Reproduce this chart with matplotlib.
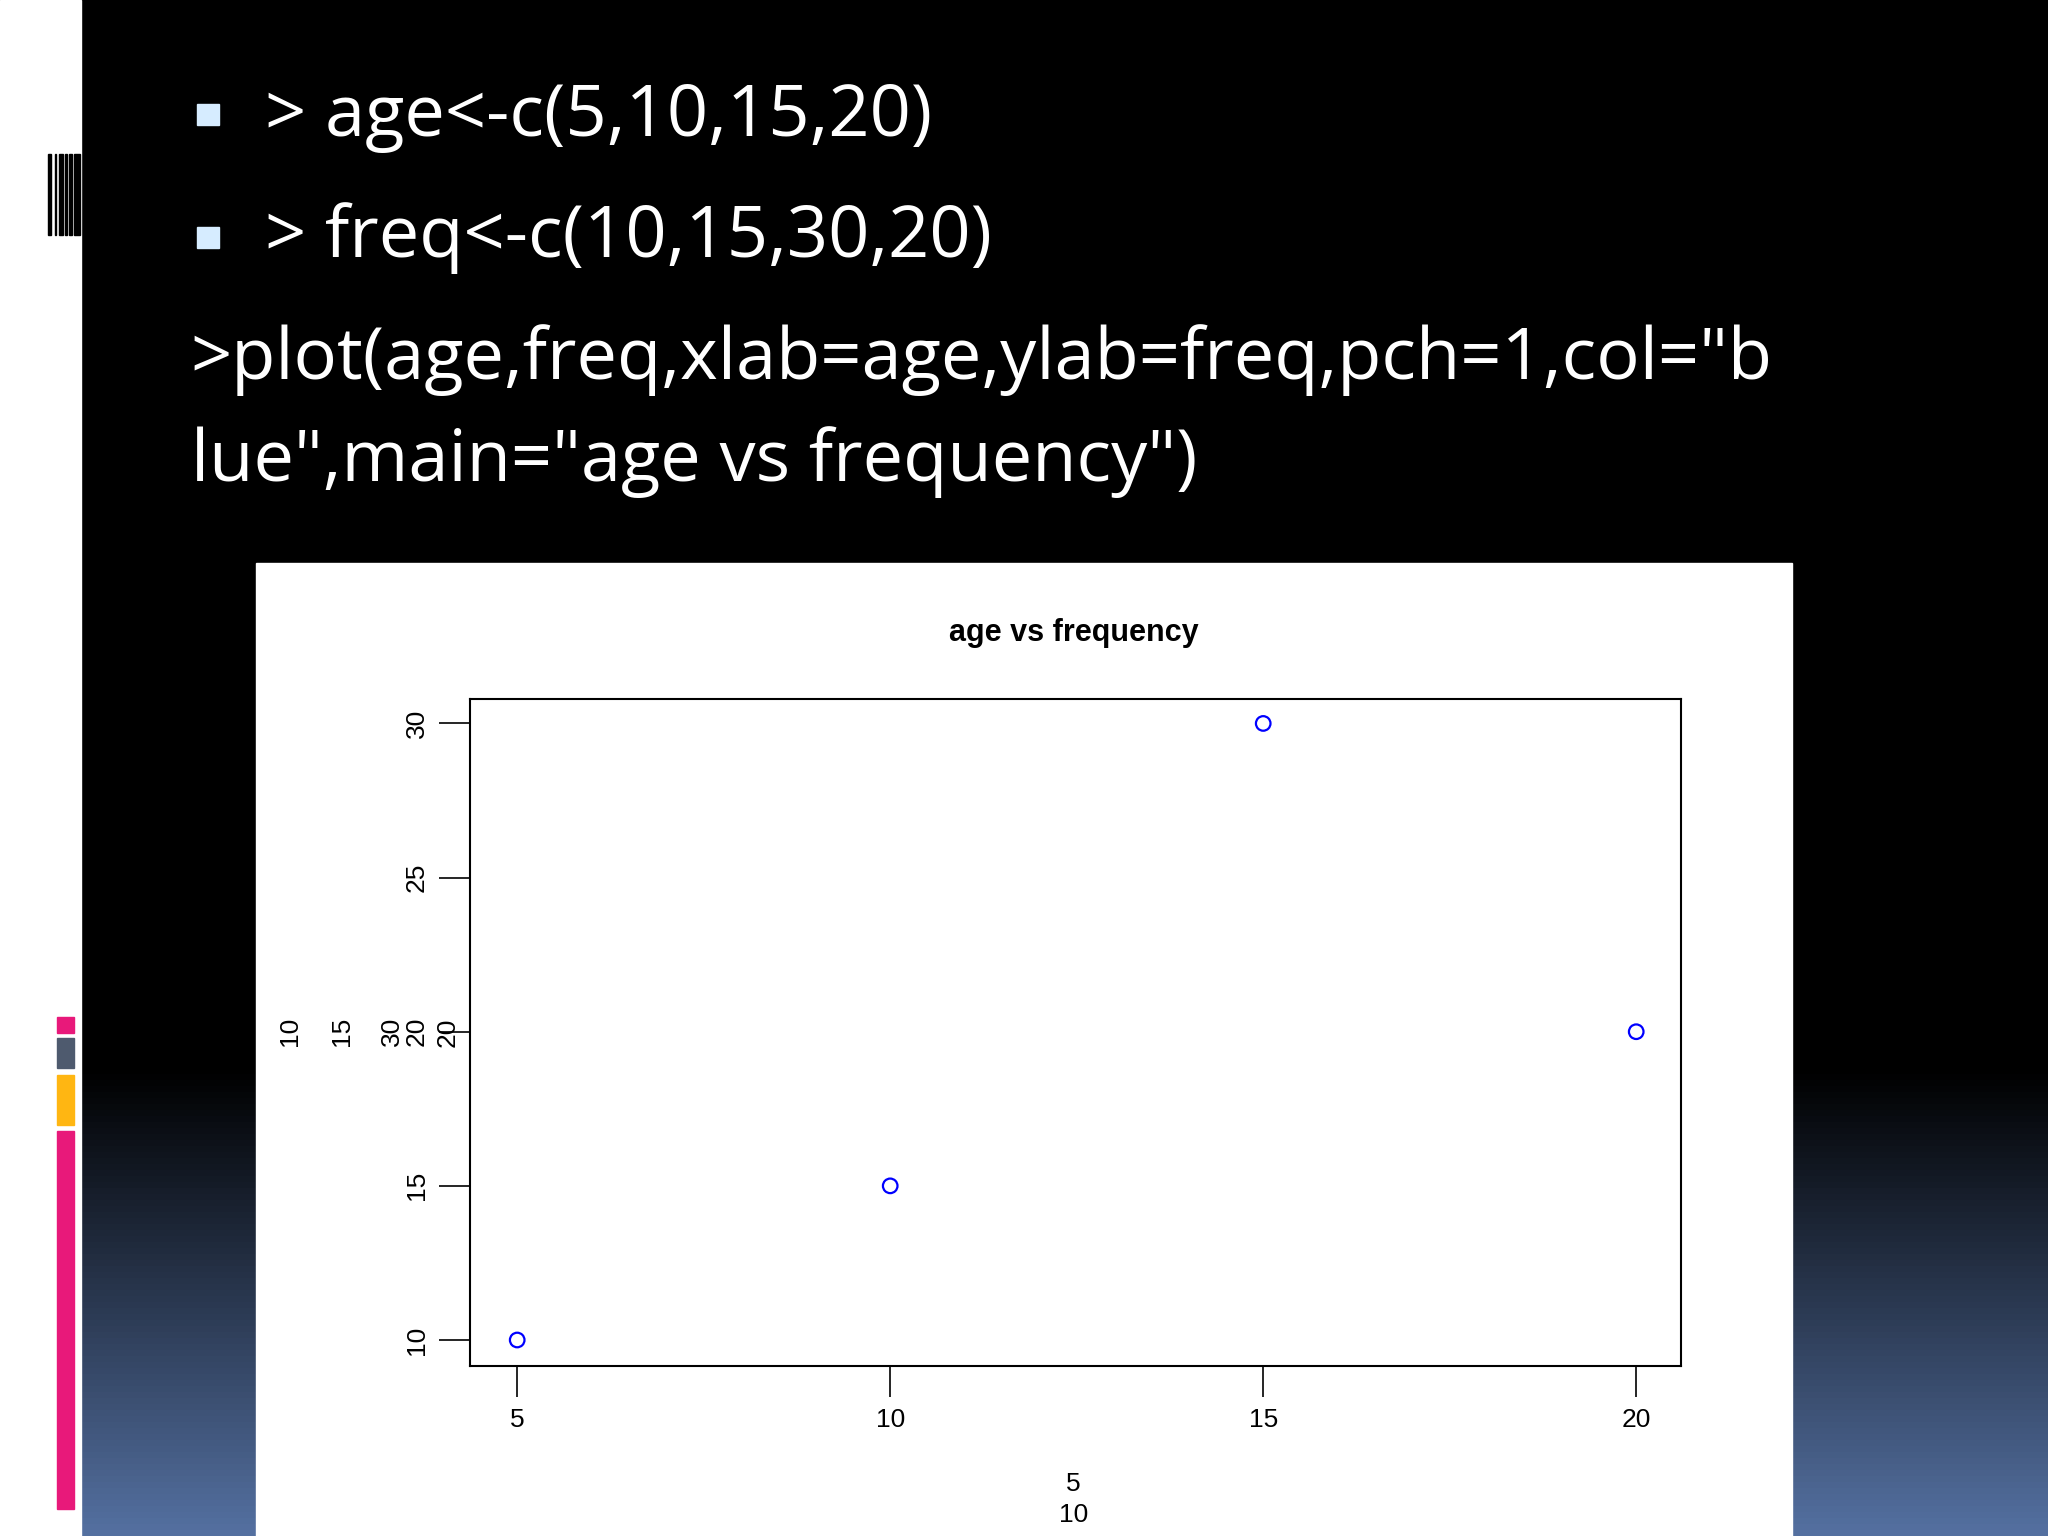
import matplotlib.pyplot as plt
import matplotlib.patches as patches
import numpy as np

age = [5, 10, 15, 20]
freq = [10, 15, 30, 20]
xticks = [5, 10, 15, 20]
yticks = [10, 15, 20, 25, 30]
ylab_parts = ["10", "15", "30", "20"]
xlab_parts = ["5", "10"]

W, H = 1568, 1176


def fx(x):
    return x / W


def fy(y):
    return 1 - y / H


fig = plt.figure(figsize=(20.48, 15.36), dpi=100)

# slide background: black fading to blue at the bottom
bg = fig.add_axes([0, 0, 1, 1])
bg.set_axis_off()
grad = np.ones((256, 1, 3))
t = np.linspace(0, 1, 256)
start = 1 - 820 / H
for i, v in enumerate(t):
    y = 1 - v  # image row 0 is top
    k = 0 if y > start else (start - y) / start
    grad[i, 0] = np.array([0.0, 0.0, 0.0]) * (1 - k) + np.array([0.33, 0.44, 0.63]) * k
bg.imshow(grad, aspect="auto", extent=[0, 1, 0, 1])
bg.set_xlim(0, 1)
bg.set_ylim(0, 1)
bg.add_patch(patches.Rectangle((0, 0), fx(62), 1, color="white"))
for x0, w in [(37, 2), (42, 1), (45, 3), (50, 1), (53, 2), (57, 4)]:
    bg.add_patch(patches.Rectangle((fx(x0), fy(180)), fx(w), fy(118) - fy(180), color="black"))
for y0, y1, c in [(779, 791, "#e8197a"), (795, 818, "#4e5a6e"),
                  (823, 861, "#ffb612"), (866, 1155, "#e8197a")]:
    bg.add_patch(patches.Rectangle((fx(44), fy(y1)), fx(13), fy(y0) - fy(y1), color=c))

# bullet lines
for yb in [88, 182]:
    bg.add_patch(patches.Rectangle((fx(151), fy(yb + 8)), fx(17), fy(yb - 8) - fy(yb + 8), color="#d6ecff"))
tk = dict(color="white", fontsize=52, family="Open Sans", va="center", transform=fig.transFigure)
fig.text(fx(203), fy(90), "> age<-c(5,10,15,20)", **tk)
fig.text(fx(203), fy(182), "> freq<-c(10,15,30,20)", **tk)
fig.text(fx(146), fy(276), '>plot(age,freq,xlab=age,ylab=freq,pch=1,col="b', **tk)
fig.text(fx(146), fy(354), 'lue",main="age vs frequency")', **tk)

# white plot panel
bg.add_patch(patches.Rectangle((fx(196), 0), fx(1372 - 196), fy(431), color="white"))

ax = fig.add_axes([fx(360), fy(1046), fx(1287 - 360), fy(535) - fy(1046)])
ax.scatter(age, freq, s=110, facecolors="none", edgecolors="blue", linewidths=1.6)
ax.set_xlim(4.37, 20.6)
ax.set_ylim(9.15, 30.8)
ax.set_xticks(xticks)
ax.set_xticklabels([str(v) for v in xticks], fontsize=19, family="Liberation Sans")
ax.set_yticks(yticks)
ax.set_yticklabels([str(v) for v in yticks], fontsize=19, family="Liberation Sans",
                   rotation=90, va="center")
ax.tick_params(length=22, width=1.2, pad=8)
for s in ax.spines.values():
    s.set_linewidth(1.5)

fig.text(fx(822), fy(485), "age vs frequency", fontsize=22, fontweight="bold",
         family="Liberation Sans", ha="center", va="center")
for x, s in zip([222, 262, 300, 343], ylab_parts):
    fig.text(fx(x), fy(790), s, fontsize=19, family="Liberation Sans",
             rotation=90, ha="center", va="center")
for y, s in zip([1136, 1160], xlab_parts):
    fig.text(fx(822), fy(y), s, fontsize=19, family="Liberation Sans",
             ha="center", va="center")

fig.savefig("out.png", dpi=100)
